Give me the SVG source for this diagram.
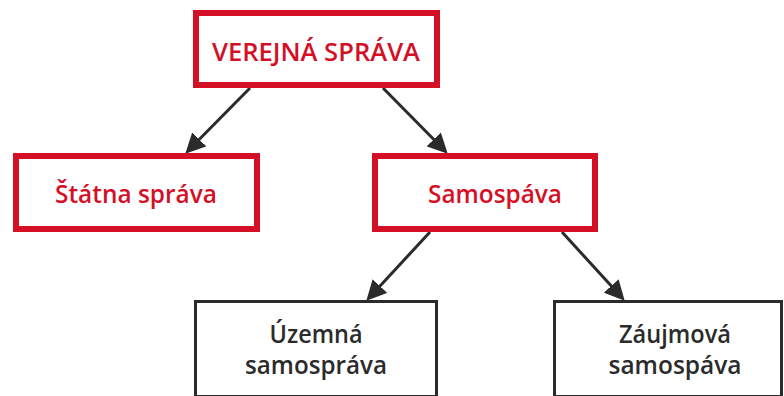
<svg xmlns="http://www.w3.org/2000/svg" width="784" height="396" viewBox="0 0 784 396">
<style>
.red{fill:#fff;stroke:#d50f25;stroke-width:6}
.dark{fill:#fff;stroke:#2b2b2b;stroke-width:3}
.tr{font-family:"Open Sans","Liberation Sans",Arial,sans-serif;font-weight:600;font-size:26px;fill:#d50f25;text-anchor:middle}
.td{font-family:"Open Sans","Liberation Sans",Arial,sans-serif;font-weight:600;font-size:25px;fill:#2b2b2b;text-anchor:middle}
.con{stroke:#2b2b2b;stroke-width:3;fill:none;marker-end:url(#ah)}
</style>
<defs>
<marker id="ah" markerUnits="userSpaceOnUse" markerWidth="20" markerHeight="20" refX="9" refY="10" orient="auto">
<path d="M0,0 L20,10 L0,20 z" fill="#2b2b2b"/>
</marker>
</defs>
<g id="connectors">
<line class="con" x1="250" y1="88" x2="193" y2="145.8"/>
<line class="con" x1="383" y1="88" x2="440" y2="145.8"/>
<line class="con" x1="430" y1="232" x2="373.8" y2="292.7"/>
<line class="con" x1="562" y1="232" x2="617.3" y2="292.6"/>
</g>
<g id="verejna">
<rect class="red" x="196" y="13" width="241" height="72"/>
<text class="tr" x="316" y="61" textLength="208" lengthAdjust="spacingAndGlyphs">VEREJNÁ SPRÁVA</text>
</g>
<g id="statna">
<rect class="red" x="16" y="156" width="241" height="73"/>
<text class="tr" x="136" y="203" textLength="162" lengthAdjust="spacingAndGlyphs">Štátna správa</text>
</g>
<g id="samospava">
<rect class="red" x="375" y="156" width="220" height="73"/>
<text class="tr" x="495" y="203" textLength="134" lengthAdjust="spacingAndGlyphs">Samospáva</text>
</g>
<g id="uzemna">
<rect class="dark" x="195.5" y="301.5" width="241" height="95"/>
<text class="td" x="316" y="343" textLength="93" lengthAdjust="spacingAndGlyphs">Územná</text>
<text class="td" x="316" y="374" textLength="142" lengthAdjust="spacingAndGlyphs">samospráva</text>
</g>
<g id="zaujmova">
<rect class="dark" x="554.5" y="301.5" width="227" height="95"/>
<text class="td" x="675" y="343" textLength="112" lengthAdjust="spacingAndGlyphs">Záujmová</text>
<text class="td" x="675" y="374" textLength="133" lengthAdjust="spacingAndGlyphs">samospáva</text>
</g>
</svg>
